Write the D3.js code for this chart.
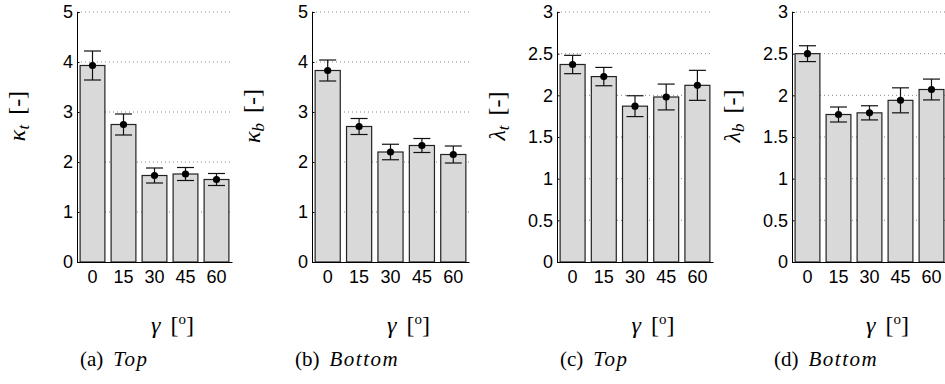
<!DOCTYPE html>
<html>
<head>
<meta charset="utf-8">
<script src="https://cdn.jsdelivr.net/npm/d3@7"></script>
</head>
<body style="margin:0;padding:0;background:#fff;">
<svg id="chart" width="945" height="384" style="display:block;"></svg>
<script>
// Inclination angles (degrees) shared by all four panels
const angles = ["0", "15", "30", "45", "60"];

// Curvature factors (mean and standard deviation)
const kappaTop = [3.93, 2.75, 1.73, 1.76, 1.65];
const kappaTopErr = [0.29, 0.21, 0.15, 0.13, 0.12];
const kappaBottom = [3.83, 2.71, 2.20, 2.33, 2.15];
const kappaBottomErr = [0.21, 0.16, 0.155, 0.14, 0.17];

// Wavelength factors (mean and standard deviation)
const lambdaTop = [2.37, 2.225, 1.87, 1.98, 2.12];
const lambdaTopErr = [0.11, 0.11, 0.125, 0.155, 0.18];
const lambdaBottom = [2.50, 1.77, 1.79, 1.94, 2.07];
const lambdaBottomErr = [0.095, 0.09, 0.085, 0.15, 0.125];

// Y tick values
const kappaTicks = [0, 1, 2, 3, 4, 5];
const lambdaTicks = [0, 0.5, 1, 1.5, 2, 2.5, 3];

// Panel descriptions
const panels = [
  { values: kappaTop, errors: kappaTopErr, ticks: kappaTicks, sym: "κ", sub: "t", tag: "(a)", caption: "Top" },
  { values: kappaBottom, errors: kappaBottomErr, ticks: kappaTicks, sym: "κ", sub: "b", tag: "(b)", caption: "Bottom" },
  { values: lambdaTop, errors: lambdaTopErr, ticks: lambdaTicks, sym: "λ", sub: "t", tag: "(c)", caption: "Top" },
  { values: lambdaBottom, errors: lambdaBottomErr, ticks: lambdaTicks, sym: "λ", sub: "b", tag: "(d)", caption: "Bottom" }
];

// Layout of the four axes boxes
const layout = [
  { left: 77, right: 232, capX: 80 },
  { left: 312, right: 469, capX: 295 },
  { left: 557, right: 713, capX: 560 },
  { left: 792, right: 947, capX: 774 }
];
const plotTop = 12, plotBottom = 262;

const sansFont = "'Liberation Sans', Arial, Helvetica, sans-serif";
const serifFont = "'Liberation Serif', 'Times New Roman', 'DejaVu Serif', serif";

const svg = d3.select("#chart");
const fmt = d3.format("~g");

panels.forEach((p, i) => {
  const L = layout[i];
  const g = svg.append("g");

  const x = d3.scaleBand().domain(angles).range([L.left, L.right]).paddingInner(0.2).paddingOuter(0.1);
  const yMax = p.ticks[p.ticks.length - 1];
  const y = d3.scaleLinear().domain([0, yMax]).range([plotBottom, plotTop]);

  // dotted grid lines
  g.selectAll("line.grid").data(p.ticks.filter(t => t > 0)).join("line")
    .attr("class", "grid")
    .attr("x1", L.left).attr("x2", L.right)
    .attr("y1", d => y(d)).attr("y2", d => y(d))
    .attr("stroke", "#8a8a8a").attr("stroke-width", 1)
    .attr("stroke-dasharray", "1,3");

  // bars
  g.selectAll("rect.bar").data(p.values).join("rect")
    .attr("class", "bar")
    .attr("x", (d, j) => x(angles[j]))
    .attr("y", d => y(d))
    .attr("width", x.bandwidth())
    .attr("height", d => y(0) - y(d))
    .attr("fill", "#d9d9d9")
    .attr("stroke", "#222")
    .attr("stroke-width", 1.2);

  // error bars
  const capHalf = 8.5;
  const eb = g.selectAll("g.err").data(p.values).join("g").attr("class", "err");
  eb.append("line")
    .attr("x1", (d, j) => x(angles[j]) + x.bandwidth() / 2)
    .attr("x2", (d, j) => x(angles[j]) + x.bandwidth() / 2)
    .attr("y1", (d, j) => y(d - p.errors[j]))
    .attr("y2", (d, j) => y(d + p.errors[j]))
    .attr("stroke", "#111").attr("stroke-width", 1.2);
  [1, -1].forEach(s => {
    eb.append("line")
      .attr("x1", (d, j) => x(angles[j]) + x.bandwidth() / 2 - capHalf)
      .attr("x2", (d, j) => x(angles[j]) + x.bandwidth() / 2 + capHalf)
      .attr("y1", (d, j) => y(d + s * p.errors[j]))
      .attr("y2", (d, j) => y(d + s * p.errors[j]))
      .attr("stroke", "#111").attr("stroke-width", 1.2);
  });
  eb.append("circle")
    .attr("cx", (d, j) => x(angles[j]) + x.bandwidth() / 2)
    .attr("cy", d => y(d))
    .attr("r", 3.6)
    .attr("fill", "#000");

  // y axis
  const yAxis = d3.axisLeft(y).tickValues(p.ticks).tickFormat(fmt).tickSize(-2.5).tickPadding(4);
  const ya = g.append("g").attr("transform", `translate(${L.left},0)`).call(yAxis);
  ya.attr("font-size", 18).attr("font-family", sansFont);
  ya.select(".domain").attr("stroke", "#000").attr("stroke-width", 1);
  ya.selectAll(".tick line").attr("stroke", "#000");
  ya.selectAll(".tick text").attr("fill", "#000")
    .style("font-family", sansFont).style("font-size", "18px");

  // x axis
  const xAxis = d3.axisBottom(x).tickSize(0).tickPadding(8);
  const xa = g.append("g").attr("transform", `translate(0,${plotBottom})`).call(xAxis);
  xa.attr("font-size", 18).attr("font-family", sansFont);
  xa.select(".domain").attr("stroke", "#000").attr("stroke-width", 1);
  xa.selectAll(".tick text").attr("fill", "#000")
    .style("font-family", sansFont).style("font-size", "18px");

  // y label
  const yl = g.append("text")
    .attr("transform", `translate(${L.left - 52},116) rotate(-90)`)
    .attr("text-anchor", "middle")
    .style("font-family", serifFont).style("font-size", "24px").attr("fill", "#000");
  yl.append("tspan").style("font-style", "italic").text(p.sym);
  yl.append("tspan").style("font-style", "italic").style("font-size", "17px").attr("dy", 4).text(p.sub);
  yl.append("tspan").attr("dy", -4).attr("dx", 10).text("[-]");

  // x label
  const cx = (L.left + L.right) / 2 + 18;
  const xl = g.append("text")
    .attr("x", cx).attr("y", 333)
    .attr("text-anchor", "middle")
    .style("font-family", serifFont).style("font-size", "24px").attr("fill", "#000");
  xl.append("tspan").style("font-style", "italic").text("γ");
  xl.append("tspan").attr("dx", 10).text("[");
  xl.append("tspan").style("font-size", "15px").attr("dy", -9).text("o");
  xl.append("tspan").attr("dy", 9).text("]");

  // caption
  const cap = g.append("text")
    .attr("x", L.capX).attr("y", 366)
    .style("font-family", serifFont).style("font-size", "21px").attr("fill", "#000");
  cap.append("tspan").text(p.tag);
  cap.append("tspan").attr("dx", 10).style("font-style", "italic").style("letter-spacing", "1.5px").text(p.caption);
});
</script>
</body>
</html>
